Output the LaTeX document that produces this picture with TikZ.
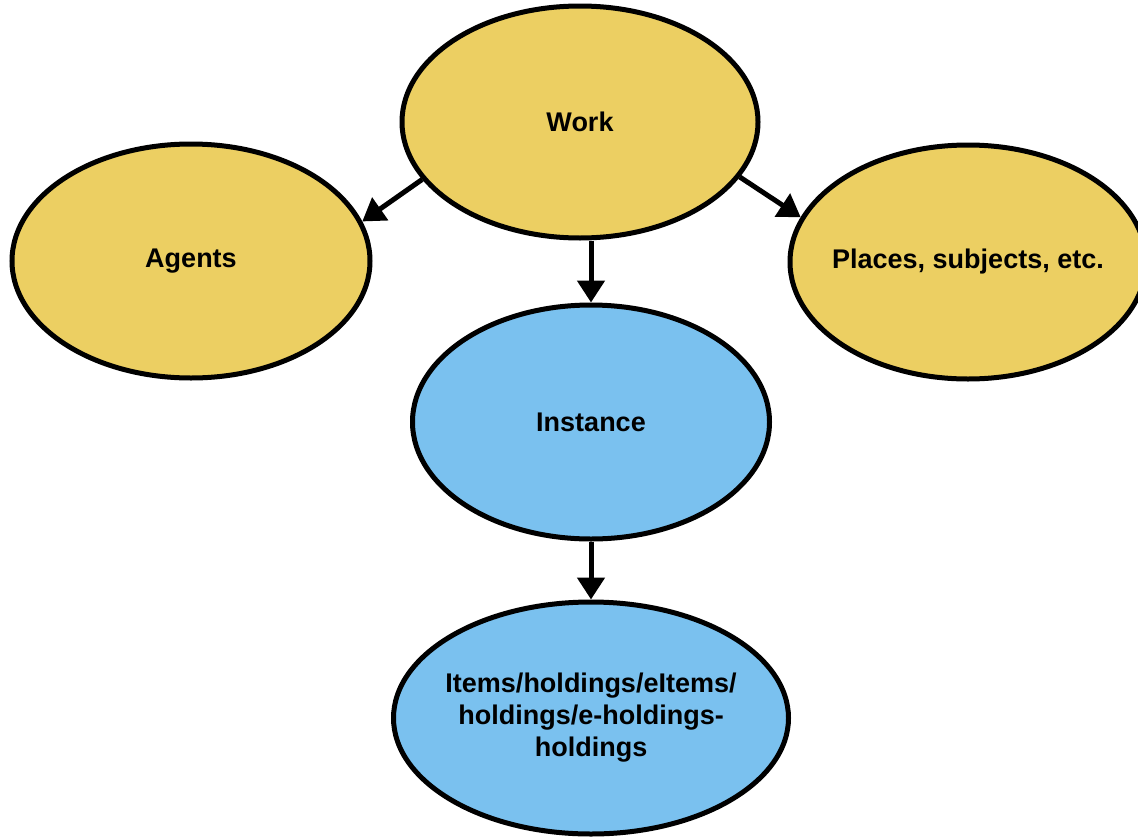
\documentclass[tikz,border=0pt]{standalone}
\usepackage{fontspec}
\setmainfont{Liberation Sans}
\usetikzlibrary{shapes.geometric,arrows.meta,calc}
\definecolor{workyellow}{RGB}{236,207,98}
\definecolor{instblue}{RGB}{122,193,239}
\begin{document}
\begin{tikzpicture}[x=1pt,y=-1pt,
  blob/.style={ellipse,draw=black,line width=5pt,inner xsep=-60pt,inner ysep=0pt,align=center,
    font=\fontsize{27}{32}\selectfont\bfseries},
  yblob/.style={blob,fill=workyellow},
  bblob/.style={blob,fill=instblue},
  conn/.style={line width=5pt,-{Triangle[length=22pt,width=27pt]}}]
\fill[white] (0,0) rectangle (1138,838);
\useasboundingbox (0,0) rectangle (1138,838);
\node[yblob,minimum width=356pt,minimum height=232pt] (work) at (580,122) {Work};
\node[yblob,minimum width=358pt,minimum height=234pt] (agents) at (191,261) {Agents};
\node[yblob,minimum width=356pt,minimum height=234pt] (places) at (968,262) {Places, subjects, etc.};
\node[bblob,minimum width=357pt,minimum height=234pt] (instance) at (591,422) {Instance};
\node[bblob,minimum width=395pt,minimum height=232pt] (items) at (591,718) {Items/holdings/eItems/\\holdings/e-holdings-\\holdings};
\draw[conn] (work.200.8) -- (agents.13.7);
\draw[conn] (work.341.2) -- (places.165.4);
\draw[conn] (instance.north |- work.south) -- (instance.north);
\draw[conn] (instance.south) -- (items.north);
\end{tikzpicture}
\end{document}
